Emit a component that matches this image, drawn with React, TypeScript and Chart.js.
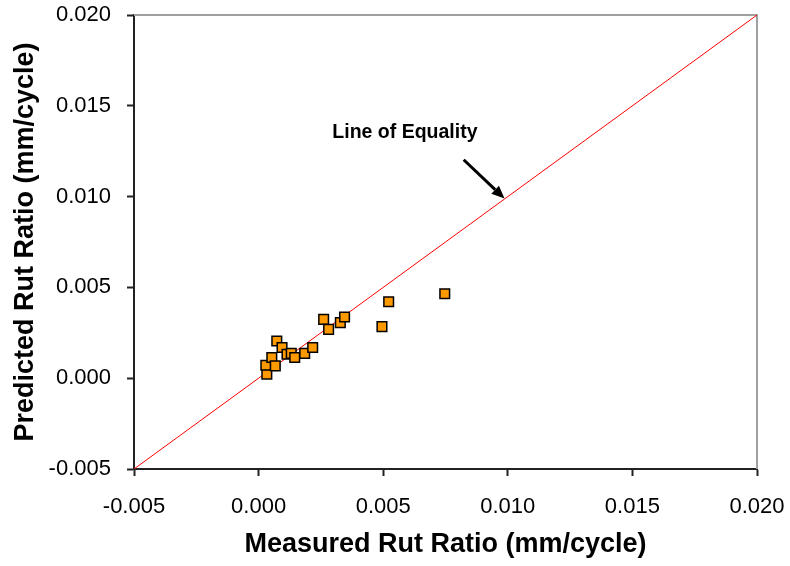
import React, { useEffect, useRef } from "react";
import { Chart, registerables } from "chart.js";

Chart.register(...registerables);

const measured = [0.00033, 0.00029, 0.00053, 0.00067, 0.00073, 0.00094, 0.00114, 0.00131, 0.00145, 0.00185, 0.00217, 0.00261, 0.00281, 0.00328, 0.00345, 0.00522, 0.00495, 0.00747];
const predicted = [0.00022, 0.00071, 0.00114, 0.00068, 0.00205, 0.00169, 0.00132, 0.00137, 0.00114, 0.00137, 0.00169, 0.00324, 0.00269, 0.00306, 0.00337, 0.00421, 0.00284, 0.00465];
const equalityLine = [-0.005, 0.02];
const tickValues = [-0.005, 0.0, 0.005, 0.01, 0.015, 0.02];
const annotationText = "Line of Equality";
const annotationTextPos = [0.00296, 0.0135];
const arrowFrom = [0.00823, 0.01203];
const arrowTo = [0.00987, 0.00989];

const FONT = "'Liberation Sans', Arial, sans-serif";

const framePlugin = {
  id: "frame",
  beforeDatasetsDraw(chart: any) {
    const { ctx, chartArea } = chart;
    ctx.save();
    ctx.strokeStyle = "#a0a0a0";
    ctx.lineWidth = 2;
    ctx.beginPath();
    ctx.moveTo(chartArea.left, chartArea.top);
    ctx.lineTo(chartArea.right, chartArea.top);
    ctx.lineTo(chartArea.right, chartArea.bottom);
    ctx.stroke();
    ctx.restore();
  },
  afterDatasetsDraw(chart: any) {
    const { ctx, scales } = chart;
    const xs = scales.x;
    const ys = scales.y;
    ctx.save();
    ctx.fillStyle = "#000";
    ctx.font = `bold 19.5px ${FONT}`;
    ctx.textBaseline = "middle";
    ctx.textAlign = "left";
    ctx.fillText(annotationText, xs.getPixelForValue(annotationTextPos[0]), ys.getPixelForValue(annotationTextPos[1]));
    const x1 = xs.getPixelForValue(arrowFrom[0]);
    const y1 = ys.getPixelForValue(arrowFrom[1]);
    const x2 = xs.getPixelForValue(arrowTo[0]);
    const y2 = ys.getPixelForValue(arrowTo[1]);
    const ang = Math.atan2(y2 - y1, x2 - x1);
    const head = 13;
    const hw = 5.5;
    const bx = x2 - head * Math.cos(ang);
    const by = y2 - head * Math.sin(ang);
    ctx.strokeStyle = "#000";
    ctx.lineWidth = 3;
    ctx.beginPath();
    ctx.moveTo(x1, y1);
    ctx.lineTo(bx, by);
    ctx.stroke();
    ctx.beginPath();
    ctx.moveTo(x2, y2);
    ctx.lineTo(bx + hw * Math.sin(ang), by - hw * Math.cos(ang));
    ctx.lineTo(bx - hw * Math.sin(ang), by + hw * Math.cos(ang));
    ctx.closePath();
    ctx.fill();
    ctx.restore();
  },
};

export default function App() {
  const ref = useRef<HTMLCanvasElement>(null);
  useEffect(() => {
    if (!ref.current) return;
    const chart = new Chart(ref.current, {
      type: "scatter",
      data: {
        datasets: [
          {
            label: "Line of Equality",
            type: "line",
            data: equalityLine.map((v) => ({ x: v, y: v })),
            borderColor: "#ff0000",
            borderWidth: 1,
            pointRadius: 0,
            fill: false,
            order: 2,
          },
          {
            label: "Rut Ratio",
            data: measured.map((v, i) => ({ x: v, y: predicted[i] })),
            backgroundColor: "#ff9900",
            borderColor: "#000000",
            borderWidth: 1.5,
            pointStyle: "rect",
            pointRadius: 6.8,
            order: 1,
          },
        ],
      },
      options: {
        animation: false,
        responsive: false,
        maintainAspectRatio: false,
        events: [],
        layout: { padding: { left: 0, top: 15, right: 33, bottom: 0 } },
        plugins: { legend: { display: false }, tooltip: { enabled: false } },
        scales: {
          x: {
            type: "linear",
            min: -0.005,
            max: 0.02,
            afterBuildTicks: (s: any) => {
              s.ticks = tickValues.map((v) => ({ value: v }));
            },
            afterFit: (s: any) => {
              s.height = 97;
              s.paddingLeft = 0;
              s.paddingRight = 0;
            },
            grid: { drawOnChartArea: false, drawTicks: true, tickLength: 7, tickWidth: 2, color: "#222" },
            border: { display: true, color: "#222", width: 2 },
            ticks: {
              color: "#000",
              padding: 18,
              font: { family: FONT, size: 22 },
              callback: (v: any) => Number(v).toFixed(3),
              maxRotation: 0,
            },
            title: {
              display: true,
              text: "Measured Rut Ratio (mm/cycle)",
              color: "#000",
              font: { family: FONT, size: 27, weight: "bold" },
              padding: { top: 0, bottom: 5 },
            },
          },
          y: {
            type: "linear",
            min: -0.005,
            max: 0.02,
            afterBuildTicks: (s: any) => {
              s.ticks = tickValues.map((v) => ({ value: v }));
            },
            afterFit: (s: any) => {
              s.width = 134;
              s.paddingTop = 0;
              s.paddingBottom = 0;
            },
            grid: { drawOnChartArea: false, drawTicks: true, tickLength: 7, tickWidth: 2, color: "#222" },
            border: { display: true, color: "#222", width: 2 },
            ticks: {
              color: "#000",
              padding: 16,
              font: { family: FONT, size: 22 },
              callback: (v: any) => Number(v).toFixed(3),
            },
            title: {
              display: true,
              text: "Predicted Rut Ratio (mm/cycle)",
              color: "#000",
              font: { family: FONT, size: 27, weight: "bold" },
              padding: { top: 9, bottom: 0 },
            },
          },
        },
      },
      plugins: [framePlugin],
    } as any);
    return () => chart.destroy();
  }, []);
  return (
    <div style={{ position: "absolute", left: 0, top: 0, width: 790, height: 566, background: "#fff" }}>
      <canvas ref={ref} width={790} height={566} style={{ width: 790, height: 566, display: "block" }} />
    </div>
  );
}
